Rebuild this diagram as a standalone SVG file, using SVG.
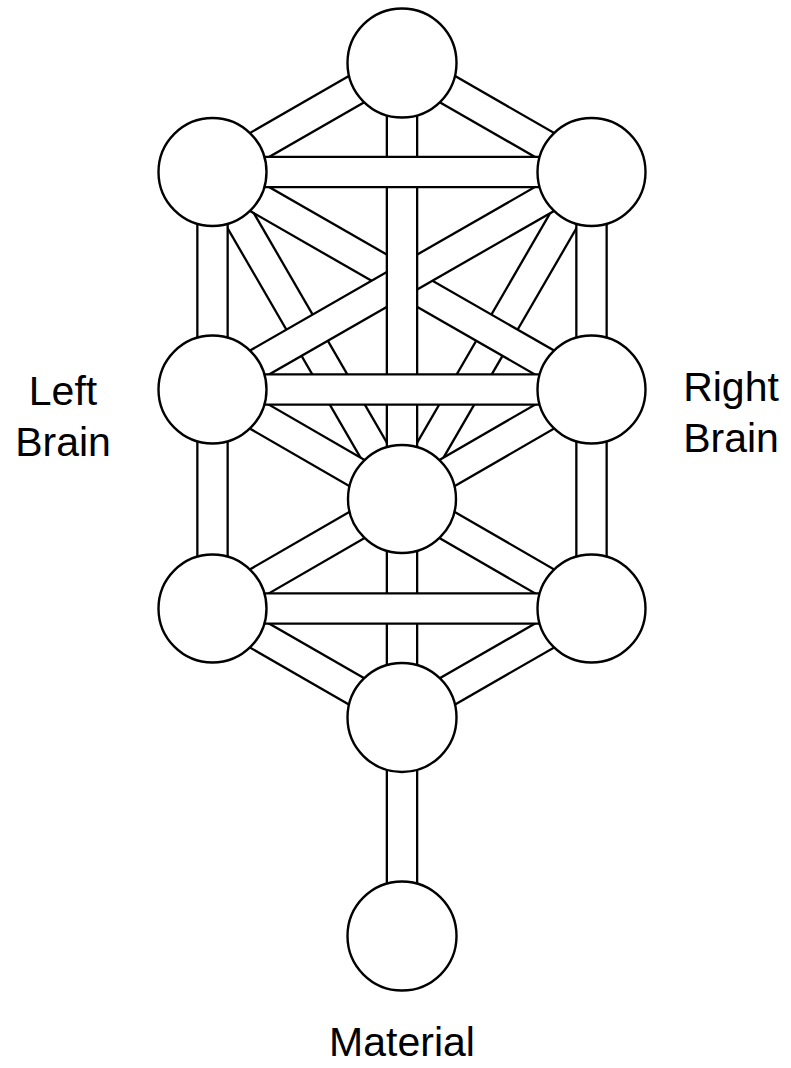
<svg xmlns="http://www.w3.org/2000/svg" width="791" height="1068" viewBox="0 0 791 1068">
<style>
.o{stroke:#000;stroke-width:32.6;stroke-linecap:butt}
.i{stroke:#fff;stroke-width:28;stroke-linecap:butt}
.n{fill:#fff;stroke:#000;stroke-width:2.4}
.t{font-family:"Liberation Sans",Arial,sans-serif;font-size:41px;fill:#000;text-anchor:middle}
</style>
<rect width="791" height="1068" fill="#fff"/>
<g id="connectors">
  <g><line class="o" x1="212.5" y1="172" x2="402" y2="499"/><line class="i" x1="212.5" y1="172" x2="402" y2="499"/></g>
  <g><line class="o" x1="591.5" y1="172" x2="402" y2="499"/><line class="i" x1="591.5" y1="172" x2="402" y2="499"/></g>
  <g><line class="o" x1="402" y1="63" x2="212.5" y2="172"/><line class="i" x1="402" y1="63" x2="212.5" y2="172"/></g>
  <g><line class="o" x1="402" y1="63" x2="591.5" y2="172"/><line class="i" x1="402" y1="63" x2="591.5" y2="172"/></g>
  <g><line class="o" x1="212.5" y1="172" x2="591.5" y2="389.5"/><line class="i" x1="212.5" y1="172" x2="591.5" y2="389.5"/></g>
  <g><line class="o" x1="212.5" y1="389.5" x2="591.5" y2="172"/><line class="i" x1="212.5" y1="389.5" x2="591.5" y2="172"/></g>
  <g><line class="o" x1="212.5" y1="389.5" x2="402" y2="499"/><line class="i" x1="212.5" y1="389.5" x2="402" y2="499"/></g>
  <g><line class="o" x1="591.5" y1="389.5" x2="402" y2="499"/><line class="i" x1="591.5" y1="389.5" x2="402" y2="499"/></g>
  <g><line class="o" x1="402" y1="499" x2="212.5" y2="608.5"/><line class="i" x1="402" y1="499" x2="212.5" y2="608.5"/></g>
  <g><line class="o" x1="402" y1="499" x2="591.5" y2="608.5"/><line class="i" x1="402" y1="499" x2="591.5" y2="608.5"/></g>
  <g><line class="o" x1="212.5" y1="608.5" x2="402" y2="717.5"/><line class="i" x1="212.5" y1="608.5" x2="402" y2="717.5"/></g>
  <g><line class="o" x1="591.5" y1="608.5" x2="402" y2="717.5"/><line class="i" x1="591.5" y1="608.5" x2="402" y2="717.5"/></g>
  <g><line class="o" x1="212.5" y1="172" x2="212.5" y2="608.5"/><line class="i" x1="212.5" y1="172" x2="212.5" y2="608.5"/></g>
  <g><line class="o" x1="591.5" y1="172" x2="591.5" y2="608.5"/><line class="i" x1="591.5" y1="172" x2="591.5" y2="608.5"/></g>
  <g><line class="o" x1="402" y1="63" x2="402" y2="936"/><line class="i" x1="402" y1="63" x2="402" y2="936"/></g>
  <g><line class="o" x1="212.5" y1="172" x2="591.5" y2="172"/><line class="i" x1="212.5" y1="172" x2="591.5" y2="172"/></g>
  <g><line class="o" x1="212.5" y1="389.5" x2="591.5" y2="389.5"/><line class="i" x1="212.5" y1="389.5" x2="591.5" y2="389.5"/></g>
  <g><line class="o" x1="212.5" y1="608.5" x2="591.5" y2="608.5"/><line class="i" x1="212.5" y1="608.5" x2="591.5" y2="608.5"/></g>
</g>
<g id="kether"><circle class="n" cx="402" cy="63" r="54.5"/></g>
<g id="chokmah"><circle class="n" cx="591.5" cy="172" r="54"/></g>
<g id="binah"><circle class="n" cx="212.5" cy="172" r="54"/></g>
<g id="chesed"><circle class="n" cx="591.5" cy="389.5" r="54"/></g>
<g id="geburah"><circle class="n" cx="212.5" cy="389.5" r="54"/></g>
<g id="tiphareth"><circle class="n" cx="402" cy="499" r="54"/></g>
<g id="netzach"><circle class="n" cx="591.5" cy="608.5" r="54"/></g>
<g id="hod"><circle class="n" cx="212.5" cy="608.5" r="54"/></g>
<g id="yesod"><circle class="n" cx="402" cy="717.5" r="54.5"/></g>
<g id="malkuth"><circle class="n" cx="402" cy="936" r="54.5"/></g>
<g id="labels">
  <text class="t" x="63" y="405">Left<tspan x="63" y="456">Brain</tspan></text>
  <text class="t" x="731" y="401">Right<tspan x="731" y="452">Brain</tspan></text>
  <text class="t" x="402" y="1056">Material</text>
</g>
</svg>
